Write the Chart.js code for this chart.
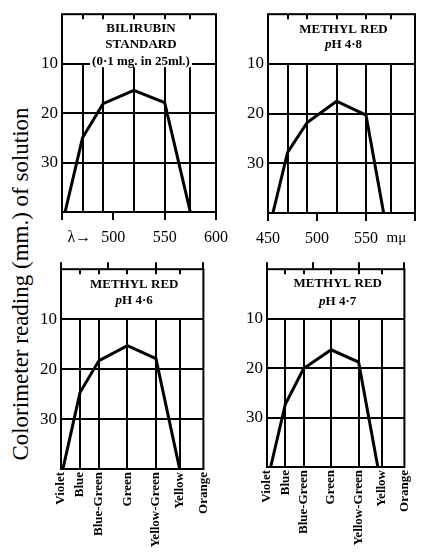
<!DOCTYPE html>
<html>
<head>
<meta charset="utf-8">
<script src="https://cdn.jsdelivr.net/npm/chart.js@4"></script>
<style>
  body { margin: 0; background: #fff; width: 423px; height: 553px; position: relative; overflow: hidden; }
  canvas { position: absolute; }
  #ytitle {
    position: absolute; left: 21px; top: 284px;
    transform: translate(-50%, -50%) rotate(-90deg);
    font: 23px 'Liberation Serif', serif; white-space: nowrap; color: #000;
  }
</style>
</head>
<body>
<div id="ytitle">Colorimeter reading (mm.) of solution</div>
<canvas id="tl" width="245" height="255" style="left:0;top:0"></canvas>
<canvas id="tr" width="201" height="255" style="left:222px;top:0"></canvas>
<canvas id="bl" width="222" height="298" style="left:0;top:255px"></canvas>
<canvas id="br" width="201" height="298" style="left:222px;top:255px"></canvas>
<script>
// colour bands (wavelength, m\u03bc)
const bandNames = ['Violet', 'Blue', 'Blue-Green', 'Green', 'Yellow-Green', 'Yellow', 'Orange'];
const bandTicks = [450, 470, 490, 520, 550, 575, 600];
const gridNm = [470, 490, 520, 550, 575];
const axisNm = [450, 500, 550, 600];
const readingTicks = [10, 20, 30];

// readings
const bilirubinNm = [453, 470, 490, 520, 550, 575];
const bilirubinReading = [40, 25.0, 18.1, 15.4, 17.9, 40];
const mr48Nm = [455, 470, 490, 520, 550, 568];
const mr48Reading = [40, 27.8, 21.8, 17.5, 20.3, 40];
const mr46Nm = [452, 470, 490, 520, 550, 575];
const mr46Reading = [40, 24.7, 18.3, 15.3, 17.9, 40];
const mr47Nm = [454, 470, 490, 520, 550, 571];
const mr47Reading = [40, 27.3, 20.1, 16.3, 18.8, 40];

const SERIF = "'Liberation Serif', serif";

const panelPlugin = {
  id: 'panel',
  beforeDatasetsDraw(chart, args, opts) {
    const { ctx, chartArea: a, scales: { x, y } } = chart;
    const y10 = y.getPixelForValue(10);
    ctx.save();
    ctx.strokeStyle = '#000';
    ctx.lineWidth = 2;
    ctx.beginPath();
    gridNm.forEach(v => {
      const px = Math.round(x.getPixelForValue(v));
      ctx.moveTo(px, y10);
      ctx.lineTo(px, a.bottom);
      ctx.moveTo(px, a.top);
      ctx.lineTo(px, a.top + 5);
    });
    if (opts.upTicks) {
      axisNm.forEach(v => {
        const px = Math.round(x.getPixelForValue(v));
        ctx.moveTo(px, a.top);
        ctx.lineTo(px, a.top - 7);
      });
    }
    ctx.stroke();
    ctx.strokeRect(a.left, a.top, a.width, a.height);
    ctx.restore();
  },
  afterDraw(chart, args, opts) {
    const { ctx, chartArea: a, scales: { y } } = chart;
    const cx = (a.left + a.right) / 2 + 2;
    ctx.save();
    ctx.textBaseline = 'middle';
    opts.title.forEach((line, i) => {
      const py = y.getPixelForValue(opts.titleAt[i]);
      const bold = 'bold 13px ' + SERIF;
      const ital = 'italic bold 13px ' + SERIF;
      let parts = [[line, bold]];
      if (line.startsWith('pH')) parts = [['p', ital], [line.slice(1), bold]];
      let w = 0;
      parts.forEach(p => { ctx.font = p[1]; w += ctx.measureText(p[0]).width; });
      ctx.fillStyle = '#fff';
      ctx.fillRect(cx - w / 2 - 2, py - 6, w + 4, 12);
      ctx.fillStyle = '#000';
      ctx.textAlign = 'left';
      let px = cx - w / 2;
      parts.forEach(p => { ctx.font = p[1]; ctx.fillText(p[0], px, py); px += ctx.measureText(p[0]).width; });
    });
    ctx.restore();
  }
};

function makePanel(id, cfg) {
  const points = cfg.nm.map((v, i) => ({ x: v, y: cfg.reading[i] }));
  const xScale = {
    type: 'linear', min: 450, max: 600,
    afterBuildTicks: s => { s.ticks = cfg.xTicks.map(v => ({ value: v })); },
    afterFit: s => { s.height = cfg.xHeight; },
    border: { display: false },
    ticks: {
      autoSkip: false, color: '#000',
      callback: (v, i) => cfg.xLabels[i]
    }
  };
  if (cfg.bottomRow) {
    xScale.grid = { display: false, drawTicks: false };
    xScale.ticks.minRotation = 90;
    xScale.ticks.maxRotation = 90;
    xScale.ticks.padding = 3;
    xScale.ticks.font = { family: SERIF, size: 13, weight: 'bold' };
  } else {
    xScale.grid = {
      drawOnChartArea: false, tickLength: 8, lineWidth: 2,
      color: c => (c.tick && axisNm.includes(c.tick.value)) ? '#000' : 'rgba(0,0,0,0)'
    };
    xScale.ticks.minRotation = 0;
    xScale.ticks.maxRotation = 0;
    xScale.ticks.padding = 8;
    xScale.ticks.font = c => ({ family: SERIF, size: (c.tick && c.tick.value === 581) ? 15 : 16 });
  }

  return new Chart(document.getElementById(id), {
    type: 'line',
    data: {
      datasets: [{
        data: points, borderColor: '#000', borderWidth: 3,
        pointRadius: 0, tension: 0, borderJoinStyle: 'miter'
      }]
    },
    options: {
      responsive: false, animation: false, devicePixelRatio: 1,
      layout: { padding: cfg.pad },
      plugins: {
        legend: { display: false },
        tooltip: { enabled: false },
        panel: { title: cfg.title, titleAt: cfg.titleAt, upTicks: cfg.bottomRow }
      },
      scales: {
        x: xScale,
        y: {
          type: 'linear', reverse: true, min: 0, max: 40,
          afterBuildTicks: s => { s.ticks = readingTicks.map(v => ({ value: v })); },
          afterFit: s => { s.width = cfg.yWidth; },
          border: { display: false },
          grid: { drawTicks: false, lineWidth: 2, color: '#000' },
          ticks: { color: '#000', padding: 4, font: { family: SERIF, size: 17 } }
        }
      }
    },
    plugins: [panelPlugin]
  });
}

makePanel('tl', {
  nm: bilirubinNm, reading: bilirubinReading,
  title: ['BILIRUBIN', 'STANDARD', '(0\u00b71 mg. in 25ml.)'], titleAt: [3.0, 6.1, 9.5],
  xTicks: [450, 467, 500, 550, 600], xLabels: ['', '\u03bb\u2192', '500', '550', '600'],
  pad: { top: 10, right: 29, left: 0, bottom: 0 }, yWidth: 62, xHeight: 43, bottomRow: false
});
makePanel('tr', {
  nm: mr48Nm, reading: mr48Reading,
  title: ['METHYL RED', 'pH 4\u00b78'], titleAt: [3.2, 6.1],
  xTicks: [450, 500, 550, 581, 600], xLabels: ['450', '500', '550', 'm\u03bc', ''],
  pad: { top: 11, right: 2, left: 0, bottom: 0 }, yWidth: 46, xHeight: 42, bottomRow: false
});
makePanel('bl', {
  nm: mr46Nm, reading: mr46Reading,
  title: ['METHYL RED', 'pH 4\u00b76'], titleAt: [3.0, 6.3],
  xTicks: bandTicks, xLabels: bandNames,
  pad: { top: 9, right: 7, left: 0, bottom: 0 }, yWidth: 61, xHeight: 84, bottomRow: true
});
makePanel('br', {
  nm: mr47Nm, reading: mr47Reading,
  title: ['METHYL RED', 'pH 4\u00b77'], titleAt: [3.0, 6.6],
  xTicks: bandTicks, xLabels: bandNames,
  pad: { top: 9, right: 2, left: 0, bottom: 0 }, yWidth: 45, xHeight: 86, bottomRow: true
});
</script>
</body>
</html>
